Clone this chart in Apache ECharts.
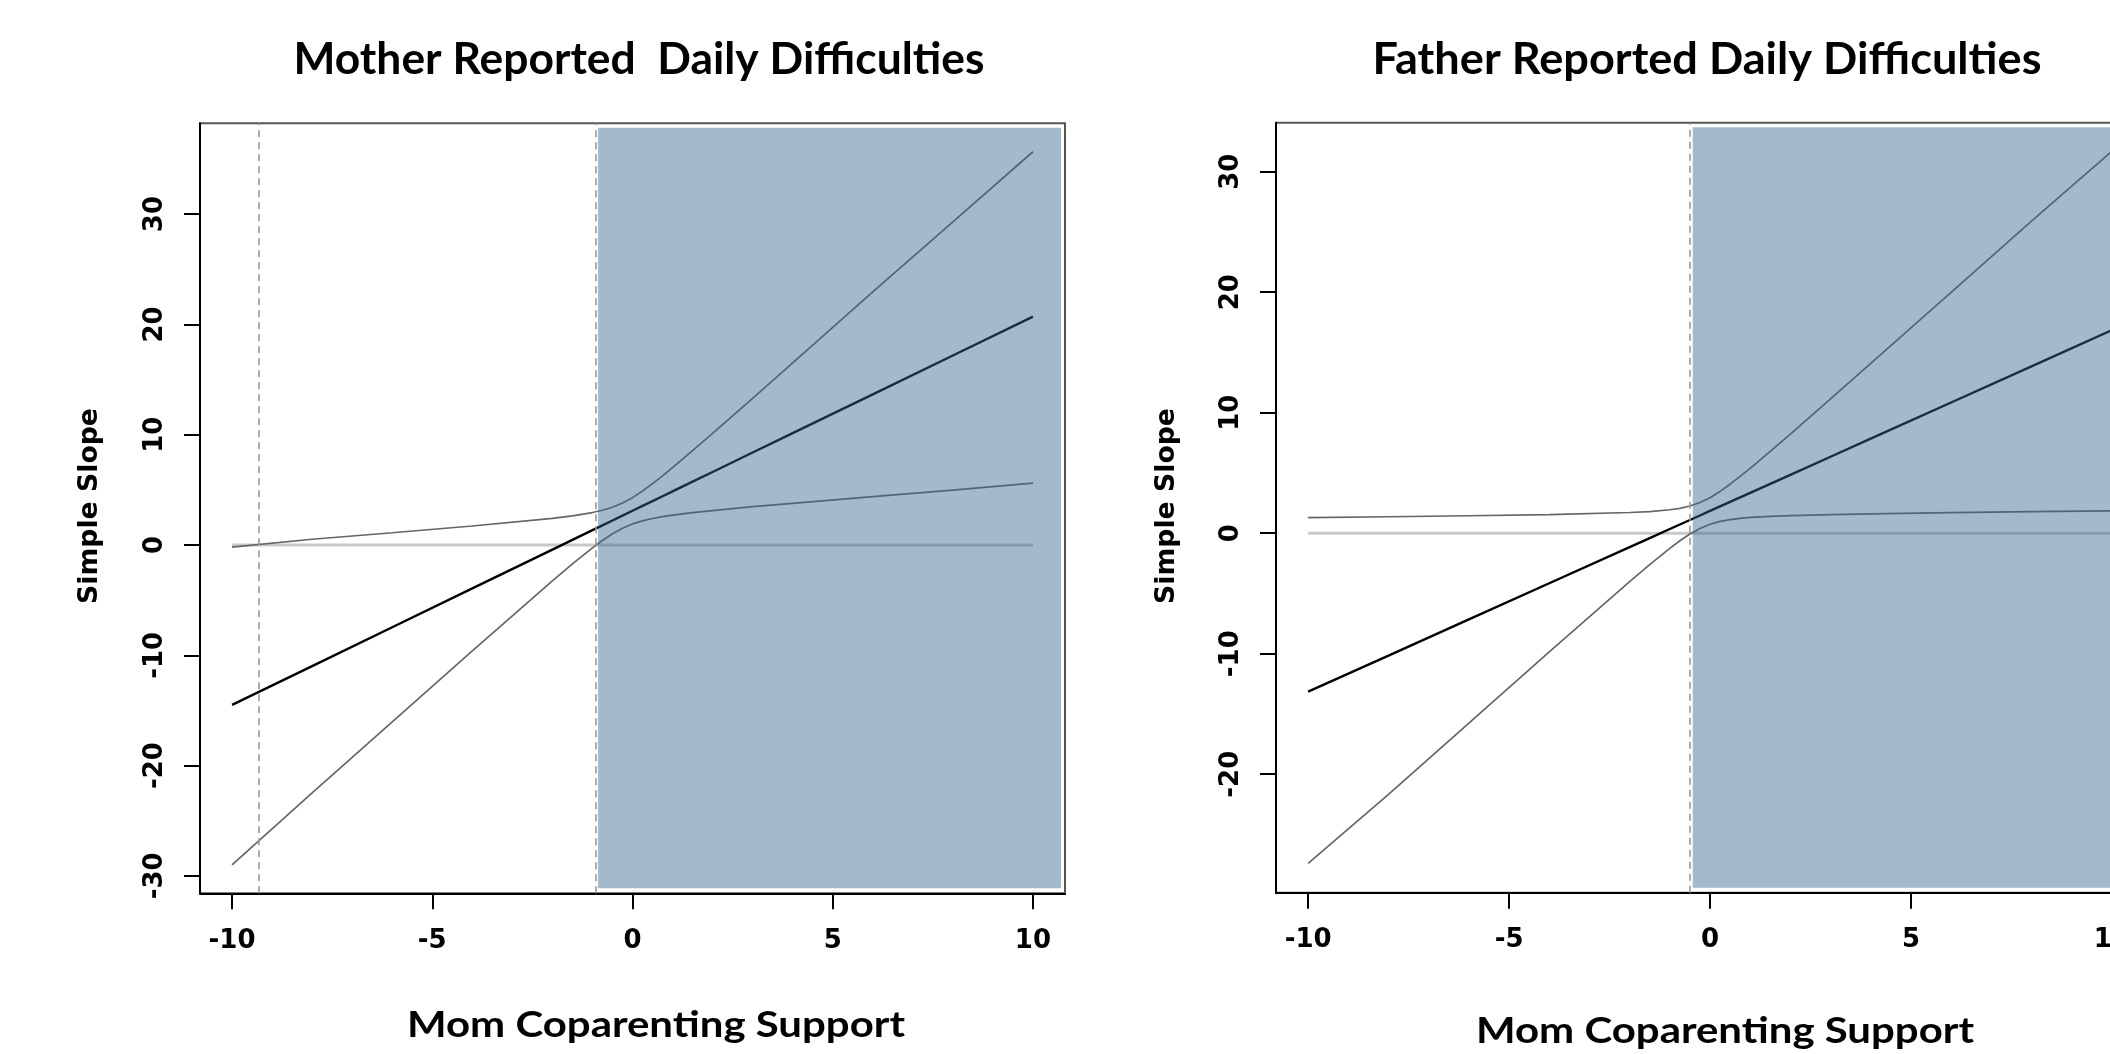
<!DOCTYPE html>
<html><head><meta charset="utf-8">
<script src="https://cdn.jsdelivr.net/npm/echarts@6/dist/echarts.min.js"></script>
<style>html,body{margin:0;padding:0;background:#fff}#c{width:2110px;height:1054px}</style>
</head><body><div id="c"></div>
<script>
// ---- data ----
const xValues = [-10,-8,-6,-4,-2,-1.5,-1,-0.75,-0.5,-0.25,0,0.25,0.5,0.75,1,1.5,2,3,4,6,8,10];

const motherEstimate = [-14.5,-10.98,-7.46,-3.94,-0.42,0.46,1.34,1.78,2.22,2.66,3.1,3.54,3.98,4.42,4.86,5.74,6.62,8.38,10.14,13.66,17.18,20.7];
const motherLower    = [-29.0,-22.48,-16.03,-9.6,-3.26,-1.72,-0.26,0.41,1.02,1.52,1.91,2.19,2.40,2.57,2.70,2.93,3.12,3.47,3.78,4.38,4.97,5.6];
const motherUpper    = [-0.2,0.52,1.11,1.72,2.42,2.64,2.94,3.15,3.42,3.80,4.29,4.89,5.56,6.27,7.02,8.55,10.12,13.29,16.5,22.94,29.3,35.65];

const fatherEstimate = [-13.15,-10.15,-7.15,-4.15,-1.15,-0.4,0.35,0.725,1.1,1.475,1.85,2.225,2.6,2.975,3.35,4.1,4.85,6.35,7.85,10.85,13.85,16.85];
const fatherLower    = [-27.4,-21.67,-15.75,-9.85,-4.02,-2.60,-1.25,-0.62,-0.06,0.40,0.75,0.98,1.13,1.23,1.31,1.40,1.47,1.55,1.61,1.71,1.79,1.86];
const fatherUpper    = [1.29,1.37,1.45,1.55,1.72,1.80,1.95,2.07,2.26,2.55,2.95,3.47,4.07,4.72,5.39,6.80,8.23,11.15,14.09,19.99,25.91,31.7];

const zeroLineX = [-10, 10];
const motherJN = [-9.34, -0.93];   // dashed lines
const fatherJN = [-0.5];
const motherSigFrom = -0.86;       // shaded region start
const fatherSigFrom = -0.43;

const xTicks = [-10,-5,0,5,10];
const motherYTicks = [-30,-20,-10,0,10,20,30];
const fatherYTicks = [-20,-10,0,10,20,30];

const motherXRange = [-10.8, 10.8], motherYRange = [-31.58, 38.23];
const fatherXRange = [-10.8, 10.8], fatherYRange = [-29.83, 34.07];

const titles = ['Mother Reported  Daily Difficulties', 'Father Reported Daily Difficulties'];
const xTitle = 'Mom Coparenting Support';
const yTitle = 'Simple Slope';

// ---- helpers ----
const zip = (xs, ys) => xs.map((x, i) => [x, ys[i]]);
const measure = (() => { const c = document.createElement('canvas').getContext('2d');
  return (text, font) => { c.font = font; return c.measureText(text).width; }; })();

const tickFont = 'DejaVu Sans';
function axes(idx, xr, yr, yt) {
  const x = {
    type: 'value', gridIndex: idx, min: xr[0], max: xr[1],
    axisLine: { show: true, onZero: false, lineStyle: { color: '#000', width: 2 } },
    axisTick: { show: true, length: 16, lineStyle: { color: '#000', width: 2 }, customValues: xTicks },
    axisLabel: { show: true, customValues: xTicks, margin: 35, fontFamily: tickFont, fontWeight: 'bold', fontSize: 26, color: '#000' },
    splitLine: { show: false }
  };
  const y = {
    type: 'value', gridIndex: idx, min: yr[0], max: yr[1],
    axisLine: { show: true, onZero: false, lineStyle: { color: '#000', width: 2 } },
    axisTick: { show: true, length: 16, lineStyle: { color: '#000', width: 2 }, customValues: yt },
    axisLabel: { show: true, customValues: yt, rotate: 90, margin: 32, fontFamily: tickFont, fontWeight: 'bold', fontSize: 26, color: '#000' },
    splitLine: { show: false }
  };
  return [x, y];
}

function panelSeries(idx, est, lo, hi, jn, sigFrom, xr, yr) {
  const base = { type: 'line', xAxisIndex: idx, yAxisIndex: idx, showSymbol: false, symbol: 'none', silent: true, animation: false };
  const yPadTop = (yr[1] - yr[0]) * 4.5 / 770, yPadBot = (yr[1] - yr[0]) * 5 / 770;
  return [
    Object.assign({}, base, { z: 2, data: zip(zeroLineX, [0, 0]), lineStyle: { color: '#c9c9c9', width: 3 } }),
    Object.assign({}, base, { z: 3, data: zip(xValues, lo), lineStyle: { color: '#666', width: 1.7 } }),
    Object.assign({}, base, { z: 3, data: zip(xValues, hi), lineStyle: { color: '#666', width: 1.7 } }),
    Object.assign({}, base, { z: 4, data: zip(xValues, est), lineStyle: { color: '#000', width: 2.4 } }),
    {
      type: 'custom', xAxisIndex: idx, yAxisIndex: idx, z: 5, silent: true, animation: false,
      encode: { x: [0, 2], y: [1, 3] },
      data: [[sigFrom, yr[0] + yPadBot, xr[1] - 0.1, yr[1] - yPadTop]],
      renderItem: (params, api) => {
        const p0 = api.coord([api.value(0), api.value(1)]);
        const p1 = api.coord([api.value(2), api.value(3)]);
        return { type: 'rect', shape: { x: p0[0], y: p1[1], width: p1[0] - p0[0], height: p0[1] - p1[1] },
                 style: { fill: 'rgba(48,102,139,0.45)' } };
      }
    },
    Object.assign({}, base, { z: 6, data: [],
      markLine: { silent: true, symbol: ['none', 'none'], label: { show: false }, animation: false,
        lineStyle: { type: [7, 5], color: '#9a9a9a', width: 1.6 },
        data: jn.map(v => ({ xAxis: v })) } })
  ];
}

const [mx, my] = axes(0, motherXRange, motherYRange, motherYTicks);
const [fx, fy] = axes(1, fatherXRange, fatherYRange, fatherYTicks);

function titleText(text, cx, cy, font, target, rot) {
  const s = target / measure(text, font);
  return { type: 'text', x: cx, y: cy, rotation: rot || 0, scaleX: s, silent: true,
           style: { text: text, font: font, textAlign: 'center', textVerticalAlign: 'middle', fill: '#000' } };
}
const titleFont = 'bold 43px Lato';
const xTitleFont = 'bold 37px Lato';
const yTitleFont = 'bold 26px "DejaVu Sans"';

const option = {
  backgroundColor: '#fff',
  animation: false,
  grid: [
    { left: 200, top: 123.3, width: 865, height: 770, show: true, borderColor: '#555', borderWidth: 2, backgroundColor: 'transparent', outerBoundsMode: 'none', containLabel: false },
    { left: 1276, top: 122.7, width: 868, height: 770, show: true, borderColor: '#555', borderWidth: 2, backgroundColor: 'transparent', outerBoundsMode: 'none', containLabel: false }
  ],
  xAxis: [mx, fx],
  yAxis: [my, fy],
  series: [].concat(
    panelSeries(0, motherEstimate, motherLower, motherUpper, motherJN, motherSigFrom, motherXRange, motherYRange),
    panelSeries(1, fatherEstimate, fatherLower, fatherUpper, fatherJN, fatherSigFrom, fatherXRange, fatherYRange)
  ),
  graphic: [
    titleText(titles[0], 639, 60.5, titleFont, 691),
    titleText(titles[1], 1707, 60.5, titleFont, 669),
    titleText(xTitle, 656, 1025.5, xTitleFont, 498),
    titleText(xTitle, 1725, 1031, xTitleFont, 498),
    titleText(yTitle, 90, 506, yTitleFont, 196, Math.PI / 2),
    titleText(yTitle, 1167, 506, yTitleFont, 196, Math.PI / 2)
  ]
};
const chart = echarts.init(document.getElementById('c'), null, { renderer: 'canvas' });
chart.setOption(option);
</script>
</body></html>
